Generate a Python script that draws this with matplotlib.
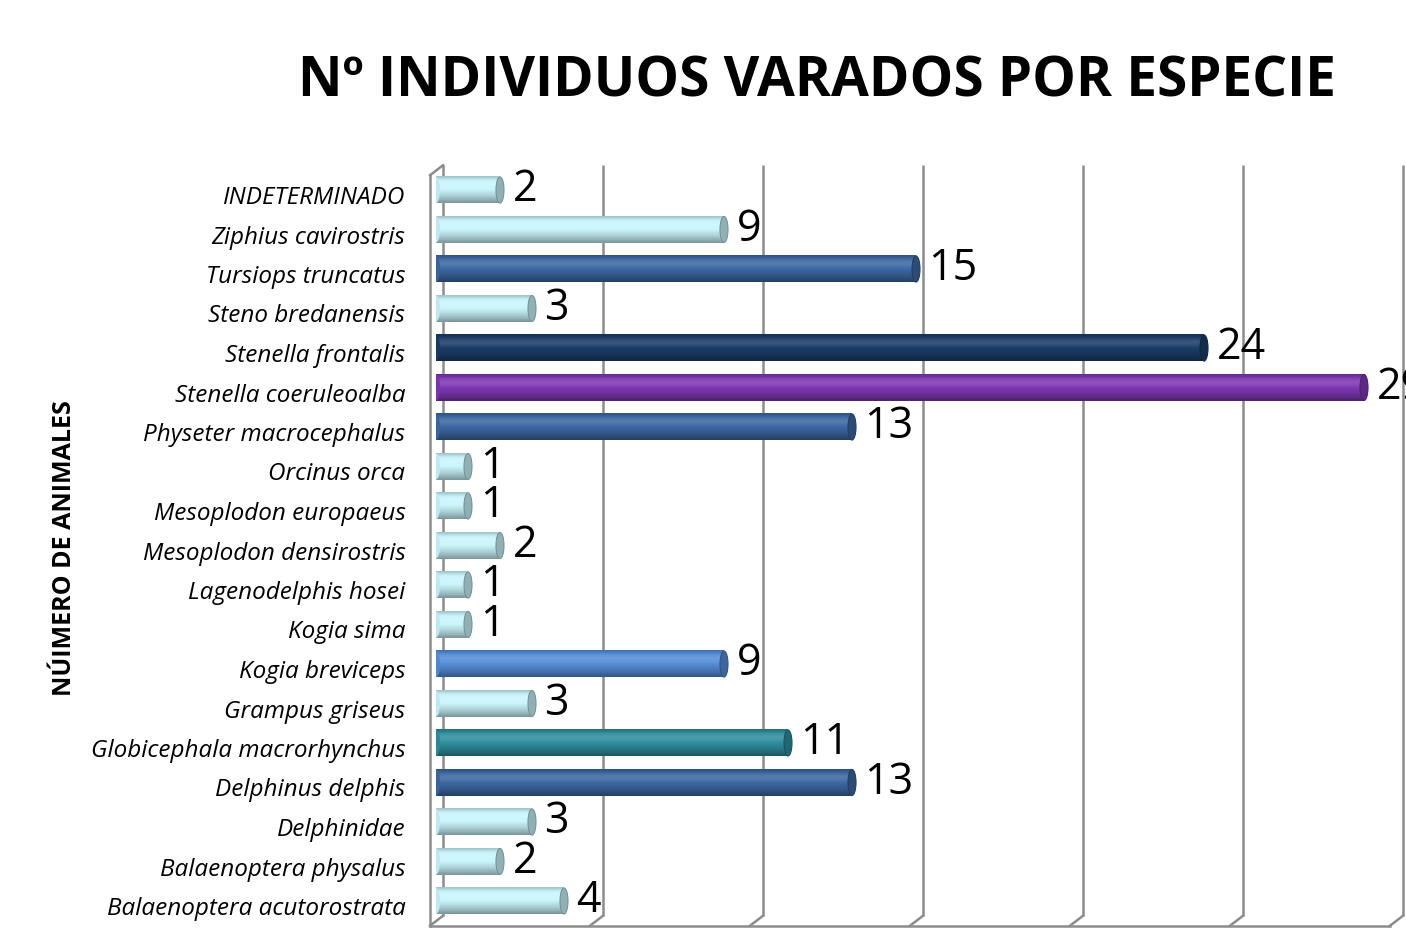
import numpy as np
import matplotlib
matplotlib.use("Agg")
import matplotlib.pyplot as plt
from matplotlib.patches import Ellipse
from matplotlib.colors import to_rgb
from matplotlib.transforms import ScaledTranslation

# ---------------- data ----------------
species = [
    "INDETERMINADO", "Ziphius cavirostris", "Tursiops truncatus", "Steno bredanensis",
    "Stenella frontalis", "Stenella coeruleoalba", "Physeter macrocephalus", "Orcinus orca",
    "Mesoplodon europaeus", "Mesoplodon densirostris", "Lagenodelphis hosei", "Kogia sima",
    "Kogia breviceps", "Grampus griseus", "Globicephala macrorhynchus", "Delphinus delphis",
    "Delphinidae", "Balaenoptera physalus", "Balaenoptera acutorostrata",
]
counts = [2, 9, 15, 3, 24, 29, 13, 1, 1, 2, 1, 1, 9, 3, 11, 13, 3, 2, 4]
bar_colors = [
    "#C9F5FB", "#C9F5FB", "#3D68A3", "#C9F5FB", "#1C3D68", "#7E38B4", "#3D68A3", "#C9F5FB",
    "#C9F5FB", "#C9F5FB", "#C9F5FB", "#C9F5FB", "#558ED8", "#C9F5FB", "#2F8E9E", "#3D68A3",
    "#C9F5FB", "#C9F5FB", "#C9F5FB",
]
title = "Nº INDIVIDUOS VARADOS POR ESPECIE"
ylabel = "NÚIMERO DE ANIMALES"
grid_ticks = [0, 5, 10, 15, 20, 25, 30]

FONT = ["Open Sans", "DejaVu Sans"]

fig = plt.figure(figsize=(14.06, 9.34), dpi=100)
ax = fig.add_axes([436 / 1406, (934 - 920.75) / 934, 960 / 1406, (920.75 - 170.25) / 934])

n = len(species)
ypos = np.arange(n)[::-1]  # first category at top
ax.set_xlim(0, 30)
ax.set_ylim(-0.5, n - 0.5)

# 3D-ish offsets in data units
px_x = 30 / 960.0
px_y = (n) / (920.75 - 170.25)
bdx, bdy = 7 * px_x, 5 * px_y     # back wall offset
fdx, fdy = -6 * px_x, -5 * px_y   # front offset
gcol = "#8C8C8C"
glw = 1.8
y0, y1 = -0.5, n - 0.5

for g in grid_ticks:
    ax.plot([g + bdx, g + bdx], [y0 + bdy, y1 + bdy], color=gcol, lw=glw, zorder=0, clip_on=False,
            solid_capstyle="butt")
    ax.plot([g + bdx, g + fdx], [y0 + bdy, y0 + fdy], color=gcol, lw=glw, zorder=0, clip_on=False)
ax.plot([fdx, fdx], [y0 + fdy, y1 + fdy], color=gcol, lw=glw, zorder=0, clip_on=False)
ax.plot([fdx, bdx], [y1 + fdy, y1 + bdy], color=gcol, lw=glw, zorder=0, clip_on=False)
ax.plot([fdx, 30 + fdx], [y0 + fdy, y0 + fdy], color=gcol, lw=glw, zorder=0, clip_on=False)

prof = np.array([0.80, 0.95, 1.04, 1.08, 1.08, 1.05, 1.0, 0.95, 0.9, 0.85, 0.78, 0.72, 0.62])

def lighten(c, f):
    c = np.array(to_rgb(c))
    if f >= 1:
        return c + (1 - c) * (f - 1) * 1.6
    return c * f

h = 0.66
capw = 8 * px_x
for y, v, c in zip(ypos, counts, bar_colors):
    grad = np.array([lighten(c, f) for f in prof])[:, None, :]
    grad = np.clip(grad, 0, 1)
    ax.imshow(grad, extent=[0, v, y - h / 2, y + h / 2], aspect="auto",
              interpolation="bicubic", zorder=2, origin="upper")
    ax.add_patch(Ellipse((0, y), capw, h, facecolor=lighten(c, 0.95), edgecolor="none", zorder=2))
    ax.add_patch(Ellipse((v, y), capw, h, facecolor=lighten(c, 0.72),
                         edgecolor=lighten(c, 0.6), lw=0.8, zorder=3))
    ax.annotate(str(v), xy=(v, y), xytext=(9, 0), textcoords="offset points",
                ha="left", va="center", fontsize=31, family=FONT, color="black",
                zorder=4, annotation_clip=False)

ax.set_xlim(0, 30)
ax.set_ylim(-0.5, n - 0.5)
ax.set_yticks(ypos)
ax.set_yticklabels(species, fontsize=17.5, style="italic", family=FONT)
ax.tick_params(axis="y", length=0, pad=22)
shift = ScaledTranslation(0, -5 / 100, fig.dpi_scale_trans)
for lab in ax.get_yticklabels():
    lab.set_transform(lab.get_transform() + shift)
ax.set_xticks([])
for s in ax.spines.values():
    s.set_visible(False)
ax.set_facecolor("none")

fig.text(817 / 1406, 1 - 82 / 934, title, ha="center", va="center",
         fontsize=39.5, fontweight="bold", family=FONT)
fig.text(65 / 1406, 1 - 548 / 934, ylabel, ha="center", va="center", rotation=90,
         fontsize=18, fontweight="bold", family=FONT)

fig.savefig("out.png", dpi=100)
